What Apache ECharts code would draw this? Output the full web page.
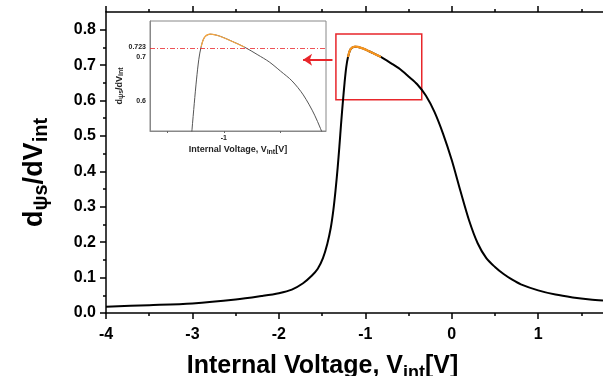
<!DOCTYPE html>
<html>
<head>
<meta charset="utf-8">
<script src="https://cdn.jsdelivr.net/npm/echarts@6.0.0/dist/echarts.min.js"></script>
<style>
  html, body { margin: 0; padding: 0; background: #fff; }
  #chart { width: 603px; height: 376px; }
</style>
</head>
<body>
<div id="chart"></div>
<script>
// values
var voltage = [-4.0, -3.5, -3.0, -2.5, -2.2, -2.0, -1.85, -1.72, -1.62, -1.55, -1.49, -1.44, -1.40, -1.37, -1.345,
               -1.32, -1.30, -1.28, -1.26, -1.24, -1.22, -1.20, -1.17, -1.12, -1.04, -0.92, -0.82, -0.7, -0.6,
               -0.5, -0.4, -0.3, -0.2, -0.1, 0.0, 0.1, 0.2, 0.3, 0.4, 0.5, 0.6, 0.7, 0.8, 1.0, 1.2, 1.4, 1.6, 1.75];
var slope = [0.018, 0.022, 0.027, 0.038, 0.048, 0.056, 0.066, 0.084, 0.105, 0.125, 0.155, 0.195, 0.240, 0.290, 0.345,
             0.410, 0.470, 0.535, 0.595, 0.650, 0.695, 0.723, 0.745, 0.752, 0.748, 0.735, 0.723, 0.705, 0.689,
             0.668, 0.646, 0.614, 0.568, 0.506, 0.432, 0.345, 0.262, 0.197, 0.155, 0.130, 0.110, 0.094, 0.081,
             0.064, 0.052, 0.044, 0.038, 0.035];
var threshold = 0.723;
var zoomBox = [[-1.34, 0.788], [-0.347, 0.602]];
var arrowLine = [[-1.38, 0.715], [-1.72, 0.715]];
var xMajor = [-4, -3, -2, -1, 0, 1];
var xMinor = [-3.5, -2.5, -1.5, -0.5, 0.5, 1.5];
var yMajor = [0, 0.1, 0.2, 0.3, 0.4, 0.5, 0.6, 0.7, 0.8];
var yMinor = [0.05, 0.15, 0.25, 0.35, 0.45, 0.55, 0.65, 0.75];
var insetXTicks = [-1.5, -1, -0.5];
var insetXLabels = [-1];
var insetYLabels = [0.6, 0.7, 0.723];

var curve = voltage.map(function (v, i) { return [v, slope[i]]; });
var peak = curve.filter(function (p) { return p[1] >= threshold; });

var font = 'Liberation Sans, Arial, sans-serif';
var chart = echarts.init(document.getElementById('chart'));

function xAx(grid, opts) {
    return Object.assign({
        type: 'value', gridIndex: grid, min: -4, max: 1.75,
        splitLine: { show: false },
        axisLine: { onZero: false, lineStyle: { color: '#000', width: 1.5 } }
    }, opts);
}
function yAx(grid, opts) {
    return Object.assign({
        type: 'value', gridIndex: grid, min: 0, max: 0.85, position: 'left',
        splitLine: { show: false },
        axisLine: { onZero: false, lineStyle: { color: '#000', width: 1.5 } }
    }, opts);
}

chart.setOption({
    backgroundColor: '#fff',
    animation: false,
    grid: [
        { left: 106, top: 12, right: 0, bottom: 63, outerBoundsMode: 'none', containLabel: false },
        { left: 150, top: 21, width: 176, height: 110, show: true, borderColor: '#888', borderWidth: 1,
          outerBoundsMode: 'none', containLabel: false }
    ],
    xAxis: [
        xAx(0, {
            position: 'bottom',
            name: 'Internal Voltage, V{s|int}[V]', nameLocation: 'middle', nameGap: 38,
            nameTextStyle: { fontFamily: font, fontWeight: 'bold', fontSize: 25, color: '#000', padding: [0, 64, 0, 0],
                rich: { s: { fontFamily: font, fontWeight: 'bold', fontSize: 18, color: '#000', padding: [13, 0, 0, 0] } } },
            axisTick: { customValues: xMajor, length: 6, inside: false, lineStyle: { color: '#000', width: 1.5 } },
            axisLabel: { customValues: xMajor, margin: 14, fontFamily: font, fontWeight: 'bold', fontSize: 16, color: '#000',
                formatter: function (v) { return String(v); } }
        }),
        xAx(0, {
            position: 'bottom', axisLine: { show: false, onZero: false },
            axisTick: { customValues: xMinor, length: 3, lineStyle: { color: '#000', width: 1.5 } },
            axisLabel: { show: false }
        }),
        xAx(0, {
            position: 'top',
            axisTick: { customValues: xMajor, length: 6, lineStyle: { color: '#000', width: 1.5 } },
            axisLabel: { show: false }
        }),
        xAx(0, {
            position: 'top', axisLine: { show: false, onZero: false },
            axisTick: { customValues: xMinor, length: 3, lineStyle: { color: '#000', width: 1.5 } },
            axisLabel: { show: false }
        }),
        {
            type: 'value', gridIndex: 1, min: -1.65, max: -0.1, position: 'bottom',
            splitLine: { show: false },
            axisLine: { onZero: false, lineStyle: { color: '#888', width: 1 } },
            axisTick: { customValues: insetXTicks, length: 2, inside: false, lineStyle: { color: '#666' } },
            axisLabel: { customValues: insetXLabels, margin: 4, fontFamily: font, fontWeight: 'bold', fontSize: 7, color: '#222' },
            name: 'Internal Voltage, V{s|int}[V]', nameLocation: 'middle', nameGap: 13,
            nameTextStyle: { fontFamily: font, fontWeight: 'bold', fontSize: 9, color: '#222',
                rich: { s: { fontFamily: font, fontWeight: 'bold', fontSize: 7, color: '#222', padding: [5, 0, 0, 0] } } }
        }
    ],
    yAxis: [
        yAx(0, {
            name: 'd{s|ψs}/dV{s|int}', nameLocation: 'middle', nameGap: 55, nameRotate: 90,
            nameTextStyle: { fontFamily: font, fontWeight: 'bold', fontSize: 27, color: '#000', padding: [0, 20, 0, 0],
                rich: { s: { fontFamily: font, fontWeight: 'bold', fontSize: 20, color: '#000', padding: [13, 0, 0, 0] } } },
            axisTick: { customValues: yMajor, length: 6, lineStyle: { color: '#000', width: 1.5 } },
            axisLabel: { customValues: yMajor, margin: 10, fontFamily: font, fontWeight: 'bold', fontSize: 16, color: '#000',
                formatter: function (v) { return v.toFixed(1); } }
        }),
        yAx(0, {
            axisLine: { show: false, onZero: false },
            axisTick: { customValues: yMinor, length: 3, lineStyle: { color: '#000', width: 1.5 } },
            axisLabel: { show: false }
        }),
        {
            type: 'value', gridIndex: 1, min: 0.532, max: 0.782, position: 'left',
            splitLine: { show: false },
            axisLine: { onZero: false, lineStyle: { color: '#888', width: 1 } },
            axisTick: { show: false },
            axisLabel: { customValues: insetYLabels, margin: 4, fontFamily: font, fontWeight: 'bold', fontSize: 7, color: '#222',
                formatter: function (v) { return String(v); } },
            name: 'd{s|ψs}/dV{s|int}', nameLocation: 'middle', nameGap: 22, nameRotate: 90,
            nameTextStyle: { fontFamily: font, fontWeight: 'bold', fontSize: 9, color: '#222', padding: [0, 20, 0, 0],
                rich: { s: { fontFamily: font, fontWeight: 'bold', fontSize: 7, color: '#222', padding: [4, 0, 0, 0] } } }
        }
    ],
    series: [
        {
            type: 'line', xAxisIndex: 0, yAxisIndex: 0, data: curve, smooth: 0.3, showSymbol: false,
            lineStyle: { color: '#000', width: 2 },
            markArea: {
                silent: true,
                itemStyle: { color: 'rgba(0,0,0,0)', borderColor: '#e8262b', borderWidth: 1.5 },
                data: [[{ coord: zoomBox[0] }, { coord: zoomBox[1] }]]
            },
            markLine: {
                silent: true, symbol: ['none', 'arrow'], symbolSize: 9,
                label: { show: false },
                lineStyle: { color: '#e8262b', width: 2, type: 'solid' },
                data: [[{ coord: arrowLine[0] }, { coord: arrowLine[1] }]]
            }
        },
        {
            type: 'line', xAxisIndex: 0, yAxisIndex: 0, data: peak, smooth: 0.3, showSymbol: false,
            lineStyle: { color: '#f7941d', width: 2.2 }
        },
        {
            type: 'line', xAxisIndex: 4, yAxisIndex: 2, data: curve, smooth: 0.3, showSymbol: false,
            lineStyle: { color: '#555', width: 1 },
            markLine: {
                silent: true, symbol: 'none', label: { show: false },
                lineStyle: { color: '#e8262b', width: 0.8, type: [5, 2, 1, 2] },
                data: [{ yAxis: threshold }]
            }
        },
        {
            type: 'line', xAxisIndex: 4, yAxisIndex: 2, data: peak, smooth: 0.3, showSymbol: false,
            lineStyle: { color: '#f5a540', width: 1.2 }
        }
    ]
});
</script>
</body>
</html>
